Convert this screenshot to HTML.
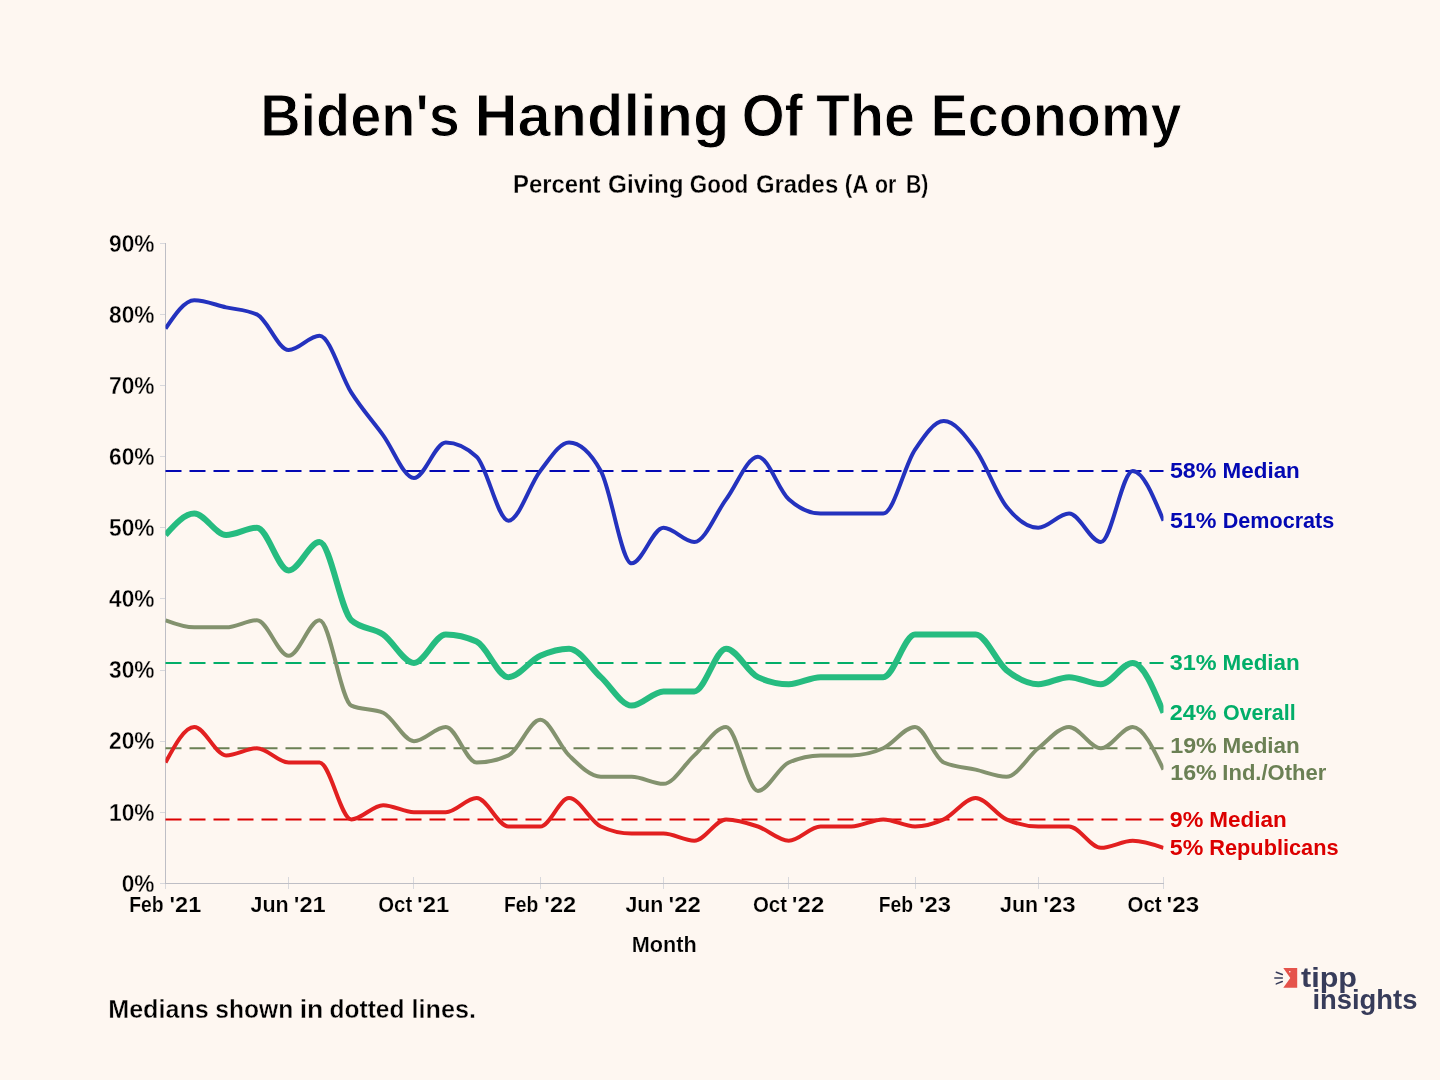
<!DOCTYPE html>
<html lang="en"><head><meta charset="utf-8"><title>Biden's Handling Of The Economy</title>
<style>
html,body{margin:0;padding:0;background:#fef7f1;}
body{width:1440px;height:1080px;overflow:hidden;}
svg{display:block;font-family:"Liberation Sans",Arial,Helvetica,sans-serif;}
svg text{white-space:pre;}
</style></head><body>
<svg width="1440" height="1080" viewBox="0 0 1440 1080">
<rect width="1440" height="1080" fill="#fef7f1"/>
<text id="title" y="135.8" font-size="59.7" font-weight="bold" fill="#000" stroke="#fef7f1" stroke-width="1.0" stroke-linejoin="miter"><tspan x="260.19" textLength="199.59" lengthAdjust="spacingAndGlyphs">Biden's</tspan> <tspan x="474.38" textLength="255.11" lengthAdjust="spacingAndGlyphs">Handling</tspan> <tspan x="741.67" textLength="61.30" lengthAdjust="spacingAndGlyphs">Of</tspan> <tspan x="816.00" textLength="98.81" lengthAdjust="spacingAndGlyphs">The</tspan> <tspan x="930.46" textLength="251.12" lengthAdjust="spacingAndGlyphs">Economy</tspan></text>
<text id="sub" y="193.3" font-size="24.9" font-weight="bold" fill="#000" stroke="#fef7f1" stroke-width="0.3" stroke-linejoin="miter"><tspan x="512.98" textLength="87.52" lengthAdjust="spacingAndGlyphs">Percent</tspan> <tspan x="608.11" textLength="75.48" lengthAdjust="spacingAndGlyphs">Giving</tspan> <tspan x="689.79" textLength="58.52" lengthAdjust="spacingAndGlyphs">Good</tspan> <tspan x="755.90" textLength="82.26" lengthAdjust="spacingAndGlyphs">Grades</tspan> <tspan x="844.67" textLength="22.95" lengthAdjust="spacingAndGlyphs">(A</tspan> <tspan x="874.96" textLength="21.34" lengthAdjust="spacingAndGlyphs">or</tspan> <tspan x="905.93" textLength="22.43" lengthAdjust="spacingAndGlyphs">B)</tspan></text>
<g stroke="#d8d8dc" stroke-width="1" fill="none" shape-rendering="crispEdges">
<line x1="159.5" y1="883.40" x2="165.0" y2="883.40"/>
<line x1="159.5" y1="812.28" x2="165.0" y2="812.28"/>
<line x1="159.5" y1="741.16" x2="165.0" y2="741.16"/>
<line x1="159.5" y1="670.04" x2="165.0" y2="670.04"/>
<line x1="159.5" y1="598.92" x2="165.0" y2="598.92"/>
<line x1="159.5" y1="527.80" x2="165.0" y2="527.80"/>
<line x1="159.5" y1="456.68" x2="165.0" y2="456.68"/>
<line x1="159.5" y1="385.56" x2="165.0" y2="385.56"/>
<line x1="159.5" y1="314.44" x2="165.0" y2="314.44"/>
<line x1="159.5" y1="243.32" x2="165.0" y2="243.32"/>
<line x1="165.50" y1="876.90" x2="165.50" y2="889.40"/>
<line x1="288.71" y1="876.90" x2="288.71" y2="889.40"/>
<line x1="413.97" y1="876.90" x2="413.97" y2="889.40"/>
<line x1="540.26" y1="876.90" x2="540.26" y2="889.40"/>
<line x1="663.47" y1="876.90" x2="663.47" y2="889.40"/>
<line x1="788.74" y1="876.90" x2="788.74" y2="889.40"/>
<line x1="915.03" y1="876.90" x2="915.03" y2="889.40"/>
<line x1="1038.24" y1="876.90" x2="1038.24" y2="889.40"/>
<line x1="1163.50" y1="876.90" x2="1163.50" y2="889.40"/>
</g>
<g stroke="#bebec5" stroke-width="1" fill="none" shape-rendering="crispEdges">
<line x1="165.5" y1="242.81999999999994" x2="165.5" y2="883.9"/>
<line x1="165.0" y1="883.4" x2="1164.0" y2="883.4"/>
</g>
<g id="ylabs" font-size="24.0" text-anchor="end" fill="#000" font-weight="bold" stroke="#fef7f1" stroke-width="0.35" stroke-linejoin="miter">
<text x="154.5" y="891.65" textLength="32.8" lengthAdjust="spacingAndGlyphs">0%</text>
<text x="154.5" y="820.53" textLength="45.5" lengthAdjust="spacingAndGlyphs">10%</text>
<text x="154.5" y="749.41" textLength="45.5" lengthAdjust="spacingAndGlyphs">20%</text>
<text x="154.5" y="678.29" textLength="45.5" lengthAdjust="spacingAndGlyphs">30%</text>
<text x="154.5" y="607.17" textLength="45.5" lengthAdjust="spacingAndGlyphs">40%</text>
<text x="154.5" y="536.05" textLength="45.5" lengthAdjust="spacingAndGlyphs">50%</text>
<text x="154.5" y="464.93" textLength="45.5" lengthAdjust="spacingAndGlyphs">60%</text>
<text x="154.5" y="393.81" textLength="45.5" lengthAdjust="spacingAndGlyphs">70%</text>
<text x="154.5" y="322.69" textLength="45.5" lengthAdjust="spacingAndGlyphs">80%</text>
<text x="154.5" y="251.57" textLength="45.5" lengthAdjust="spacingAndGlyphs">90%</text>
</g>
<g id="xlabs" font-size="21.6" text-anchor="middle" fill="#000" font-weight="bold" stroke="#fef7f1" stroke-width="0.2" stroke-linejoin="miter">
<text y="912.2" text-anchor="start"><tspan x="129.18" textLength="34.38" lengthAdjust="spacingAndGlyphs">Feb</tspan> <tspan x="169.51" textLength="31.77" lengthAdjust="spacingAndGlyphs">'21</tspan></text>
<text y="912.2" text-anchor="start"><tspan x="250.56" textLength="38.18" lengthAdjust="spacingAndGlyphs">Jun</tspan> <tspan x="293.77" textLength="31.94" lengthAdjust="spacingAndGlyphs">'21</tspan></text>
<text y="912.2" text-anchor="start"><tspan x="378.25" textLength="33.91" lengthAdjust="spacingAndGlyphs">Oct</tspan> <tspan x="417.03" textLength="32.26" lengthAdjust="spacingAndGlyphs">'21</tspan></text>
<text y="912.2" text-anchor="start"><tspan x="504.03" textLength="34.31" lengthAdjust="spacingAndGlyphs">Feb</tspan> <tspan x="544.37" textLength="31.88" lengthAdjust="spacingAndGlyphs">'22</tspan></text>
<text y="912.2" text-anchor="start"><tspan x="625.39" textLength="38.05" lengthAdjust="spacingAndGlyphs">Jun</tspan> <tspan x="668.53" textLength="32.38" lengthAdjust="spacingAndGlyphs">'22</tspan></text>
<text y="912.2" text-anchor="start"><tspan x="752.91" textLength="34.11" lengthAdjust="spacingAndGlyphs">Oct</tspan> <tspan x="791.89" textLength="32.34" lengthAdjust="spacingAndGlyphs">'22</tspan></text>
<text y="912.2" text-anchor="start"><tspan x="878.79" textLength="34.33" lengthAdjust="spacingAndGlyphs">Feb</tspan> <tspan x="918.91" textLength="32.13" lengthAdjust="spacingAndGlyphs">'23</tspan></text>
<text y="912.2" text-anchor="start"><tspan x="1000.07" textLength="38.10" lengthAdjust="spacingAndGlyphs">Jun</tspan> <tspan x="1043.27" textLength="32.35" lengthAdjust="spacingAndGlyphs">'23</tspan></text>
<text y="912.2" text-anchor="start"><tspan x="1127.61" textLength="34.03" lengthAdjust="spacingAndGlyphs">Oct</tspan> <tspan x="1166.55" textLength="32.58" lengthAdjust="spacingAndGlyphs">'23</tspan></text>
</g>
<text id="month" x="664.2" y="951.8" font-size="22.4" textLength="65" lengthAdjust="spacingAndGlyphs" text-anchor="middle" font-weight="bold" fill="#000" stroke="#fef7f1" stroke-width="0.2" stroke-linejoin="miter" >Month</text>
<line x1="165.5" y1="470.90" x2="1163.5" y2="470.90" stroke="#0308b3" stroke-width="2" stroke-dasharray="16 8"/>
<line x1="165.5" y1="662.93" x2="1163.5" y2="662.93" stroke="#02ae69" stroke-width="2" stroke-dasharray="16 8"/>
<line x1="165.5" y1="748.27" x2="1163.5" y2="748.27" stroke="#6b8054" stroke-width="2" stroke-dasharray="16 8"/>
<line x1="165.5" y1="819.39" x2="1163.5" y2="819.39" stroke="#dc0000" stroke-width="2" stroke-dasharray="16 8"/>
<clipPath id="plotclip"><rect x="165.5" y="200" width="998.0" height="700"/></clipPath>
<g clip-path="url(#plotclip)">
<path d="M165.50,620.26C175.08,623.81 184.67,627.37 194.25,627.37C204.86,627.37 215.47,627.37 226.08,627.37C236.35,627.37 246.61,620.26 256.88,620.26C267.49,620.26 278.10,655.82 288.71,655.82C298.98,655.82 309.24,620.26 319.51,620.26C330.12,620.26 340.73,700.86 351.34,705.60C361.95,710.34 372.56,707.97 383.17,712.71C393.44,717.30 403.71,741.16 413.97,741.16C424.58,741.16 435.19,726.94 445.80,726.94C456.07,726.94 466.34,762.50 476.60,762.50C487.21,762.50 497.82,760.13 508.43,755.38C519.04,750.64 529.65,719.82 540.26,719.82C549.85,719.82 559.43,746.11 569.01,755.38C579.62,765.65 590.23,776.72 600.84,776.72C611.11,776.72 621.38,776.72 631.64,776.72C642.25,776.72 652.86,783.83 663.47,783.83C673.74,783.83 684.01,764.72 694.28,755.38C704.89,745.74 715.50,726.94 726.10,726.94C736.71,726.94 747.32,790.94 757.93,790.94C768.20,790.94 778.47,767.08 788.74,762.50C799.35,757.75 809.96,755.38 820.57,755.38C830.83,755.38 841.10,755.38 851.37,755.38C861.98,755.38 872.59,753.01 883.20,748.27C893.81,743.53 904.42,726.94 915.03,726.94C924.61,726.94 934.19,758.21 943.78,762.50C954.39,767.24 965.00,767.20 975.60,769.61C985.87,771.94 996.14,776.72 1006.41,776.72C1017.02,776.72 1027.63,756.67 1038.24,748.27C1048.50,740.14 1058.77,726.94 1069.04,726.94C1079.65,726.94 1090.26,748.27 1100.87,748.27C1111.48,748.27 1122.09,726.94 1132.70,726.94C1142.97,726.94 1153.23,748.27 1163.50,769.61" fill="none" stroke="#83926e" stroke-width="4" stroke-linejoin="round" stroke-linecap="butt"/>
<path d="M165.50,762.50C175.08,744.72 184.67,726.94 194.25,726.94C204.86,726.94 215.47,755.38 226.08,755.38C236.35,755.38 246.61,748.27 256.88,748.27C267.49,748.27 278.10,762.50 288.71,762.50C298.98,762.50 309.24,762.50 319.51,762.50C330.12,762.50 340.73,819.39 351.34,819.39C361.95,819.39 372.56,805.17 383.17,805.17C393.44,805.17 403.71,812.28 413.97,812.28C424.58,812.28 435.19,812.28 445.80,812.28C456.07,812.28 466.34,798.06 476.60,798.06C487.21,798.06 497.82,826.50 508.43,826.50C519.04,826.50 529.65,826.50 540.26,826.50C549.85,826.50 559.43,798.06 569.01,798.06C579.62,798.06 590.23,821.60 600.84,826.50C611.11,831.25 621.38,833.62 631.64,833.62C642.25,833.62 652.86,833.62 663.47,833.62C673.74,833.62 684.01,840.73 694.28,840.73C704.89,840.73 715.50,819.39 726.10,819.39C736.71,819.39 747.32,822.85 757.93,826.50C768.20,830.04 778.47,840.73 788.74,840.73C799.35,840.73 809.96,826.50 820.57,826.50C830.83,826.50 841.10,826.50 851.37,826.50C861.98,826.50 872.59,819.39 883.20,819.39C893.81,819.39 904.42,826.50 915.03,826.50C924.61,826.50 934.19,823.69 943.78,819.39C954.39,814.64 965.00,798.06 975.60,798.06C985.87,798.06 996.14,814.80 1006.41,819.39C1017.02,824.13 1027.63,826.50 1038.24,826.50C1048.50,826.50 1058.77,826.50 1069.04,826.50C1079.65,826.50 1090.26,847.84 1100.87,847.84C1111.48,847.84 1122.09,840.73 1132.70,840.73C1142.97,840.73 1153.23,844.28 1163.50,847.84" fill="none" stroke="#e22020" stroke-width="4" stroke-linejoin="round" stroke-linecap="butt"/>
<path d="M165.50,328.66C175.08,314.44 184.67,300.22 194.25,300.22C204.86,300.22 215.47,304.92 226.08,307.33C236.35,309.66 246.61,309.70 256.88,314.44C267.49,319.34 278.10,350.00 288.71,350.00C298.98,350.00 309.24,335.78 319.51,335.78C330.12,335.78 340.73,376.08 351.34,392.67C361.95,409.27 372.56,420.88 383.17,435.34C393.44,449.34 403.71,478.02 413.97,478.02C424.58,478.02 435.19,442.46 445.80,442.46C456.07,442.46 466.34,447.20 476.60,456.68C487.21,466.48 497.82,520.69 508.43,520.69C519.04,520.69 529.65,484.30 540.26,470.90C549.85,458.81 559.43,442.46 569.01,442.46C579.62,442.46 590.23,451.94 600.84,470.90C611.11,489.26 621.38,563.36 631.64,563.36C642.25,563.36 652.86,527.80 663.47,527.80C673.74,527.80 684.01,542.02 694.28,542.02C704.89,542.02 715.50,513.58 726.10,499.35C736.71,485.13 747.32,456.68 757.93,456.68C768.20,456.68 778.47,490.18 788.74,499.35C799.35,508.83 809.96,513.58 820.57,513.58C830.83,513.58 841.10,513.58 851.37,513.58C861.98,513.58 872.59,513.58 883.20,513.58C893.81,513.58 904.42,465.21 915.03,449.57C924.61,435.44 934.19,421.12 943.78,421.12C954.39,421.12 965.00,434.95 975.60,449.57C985.87,463.72 996.14,493.44 1006.41,506.46C1017.02,519.92 1027.63,527.80 1038.24,527.80C1048.50,527.80 1058.77,513.58 1069.04,513.58C1079.65,513.58 1090.26,542.02 1100.87,542.02C1111.48,542.02 1122.09,470.90 1132.70,470.90C1142.97,470.90 1153.23,495.80 1163.50,520.69" fill="none" stroke="#2432be" stroke-width="4" stroke-linejoin="round" stroke-linecap="butt"/>
<path d="M165.50,534.91C175.08,524.24 184.67,513.58 194.25,513.58C204.86,513.58 215.47,534.91 226.08,534.91C236.35,534.91 246.61,527.80 256.88,527.80C267.49,527.80 278.10,570.47 288.71,570.47C298.98,570.47 309.24,542.02 319.51,542.02C330.12,542.02 340.73,610.77 351.34,620.26C361.95,629.74 372.56,627.17 383.17,634.48C393.44,641.56 403.71,662.93 413.97,662.93C424.58,662.93 435.19,634.48 445.80,634.48C456.07,634.48 466.34,636.85 476.60,641.59C487.21,646.49 497.82,677.15 508.43,677.15C519.04,677.15 529.65,660.57 540.26,655.82C549.85,651.52 559.43,648.70 569.01,648.70C579.62,648.70 590.23,667.51 600.84,677.15C611.11,686.48 621.38,705.60 631.64,705.60C642.25,705.60 652.86,691.38 663.47,691.38C673.74,691.38 684.01,691.38 694.28,691.38C704.89,691.38 715.50,648.70 726.10,648.70C736.71,648.70 747.32,672.25 757.93,677.15C768.20,681.89 778.47,684.26 788.74,684.26C799.35,684.26 809.96,677.15 820.57,677.15C830.83,677.15 841.10,677.15 851.37,677.15C861.98,677.15 872.59,677.15 883.20,677.15C893.81,677.15 904.42,634.48 915.03,634.48C924.61,634.48 934.19,634.48 943.78,634.48C954.39,634.48 965.00,634.48 975.60,634.48C985.87,634.48 996.14,661.76 1006.41,670.04C1017.02,678.60 1027.63,684.26 1038.24,684.26C1048.50,684.26 1058.77,677.15 1069.04,677.15C1079.65,677.15 1090.26,684.26 1100.87,684.26C1111.48,684.26 1122.09,662.93 1132.70,662.93C1142.97,662.93 1153.23,687.82 1163.50,712.71" fill="none" stroke="#26bc80" stroke-width="6" stroke-linejoin="round" stroke-linecap="butt"/>
</g>
<g id="rlabs" font-size="22.8" font-weight="bold">
<text y="478.20" fill="#0308b3"><tspan x="1169.90" textLength="46.58" lengthAdjust="spacingAndGlyphs">58%</tspan> <tspan x="1222.56" textLength="77.27" lengthAdjust="spacingAndGlyphs">Median</tspan></text>
<text y="527.99" fill="#0308b3"><tspan x="1169.90" textLength="46.58" lengthAdjust="spacingAndGlyphs">51%</tspan> <tspan x="1222.76" textLength="111.52" lengthAdjust="spacingAndGlyphs">Democrats</tspan></text>
<text y="670.23" fill="#02ae69"><tspan x="1169.71" textLength="46.92" lengthAdjust="spacingAndGlyphs">31%</tspan> <tspan x="1222.52" textLength="77.25" lengthAdjust="spacingAndGlyphs">Median</tspan></text>
<text y="720.01" fill="#02ae69"><tspan x="1169.72" textLength="46.72" lengthAdjust="spacingAndGlyphs">24%</tspan> <tspan x="1222.97" textLength="72.73" lengthAdjust="spacingAndGlyphs">Overall</tspan></text>
<text y="752.97" fill="#6b8054"><tspan x="1170.21" textLength="46.60" lengthAdjust="spacingAndGlyphs">19%</tspan> <tspan x="1222.46" textLength="77.38" lengthAdjust="spacingAndGlyphs">Median</tspan></text>
<text y="779.61" fill="#6b8054"><tspan x="1170.21" textLength="46.60" lengthAdjust="spacingAndGlyphs">16%</tspan> <tspan x="1222.33" textLength="104.00" lengthAdjust="spacingAndGlyphs">Ind./Other</tspan></text>
<text y="826.69" fill="#dc0000"><tspan x="1169.74" textLength="33.54" lengthAdjust="spacingAndGlyphs">9%</tspan> <tspan x="1209.35" textLength="77.37" lengthAdjust="spacingAndGlyphs">Median</tspan></text>
<text y="855.14" fill="#dc0000"><tspan x="1169.75" textLength="33.49" lengthAdjust="spacingAndGlyphs">5%</tspan> <tspan x="1209.27" textLength="129.29" lengthAdjust="spacingAndGlyphs">Republicans</tspan></text>
</g>
<text id="foot" y="1017.55" font-size="25.0" font-weight="bold" fill="#000" stroke="#fef7f1" stroke-width="0.35" stroke-linejoin="miter"><tspan x="108.20" textLength="100.62" lengthAdjust="spacingAndGlyphs">Medians</tspan> <tspan x="215.36" textLength="77.89" lengthAdjust="spacingAndGlyphs">shown</tspan> <tspan x="299.65" textLength="23.69" lengthAdjust="spacingAndGlyphs">in</tspan> <tspan x="329.61" textLength="74.83" lengthAdjust="spacingAndGlyphs">dotted</tspan> <tspan x="411.60" textLength="64.42" lengthAdjust="spacingAndGlyphs">lines.</tspan></text>
<g id="logo">
<path d="M1283.3,968.1H1297.2V987.8H1283.3L1290.3,978Z" fill="#e5534b"/>
<circle cx="1289.8" cy="971.7" r="0.8" fill="#fff"/>
<g stroke="#373c5a" stroke-width="1.5" stroke-linecap="round"><line x1="1276.3" y1="972.3" x2="1282.3" y2="974.5"/><line x1="1274.8" y1="978" x2="1282.3" y2="978"/><line x1="1276.3" y1="983.9" x2="1282.3" y2="981.5"/></g>
<text id="tipp" x="1301" y="987.2" font-size="28.5" font-weight="bold" fill="#373c5a" textLength="56" lengthAdjust="spacingAndGlyphs">tipp</text>
<text id="insights" x="1312.4" y="1009.4" font-size="28" font-weight="bold" fill="#373c5a" textLength="105" lengthAdjust="spacingAndGlyphs">insights</text>
</g>
</svg>
</body></html>
